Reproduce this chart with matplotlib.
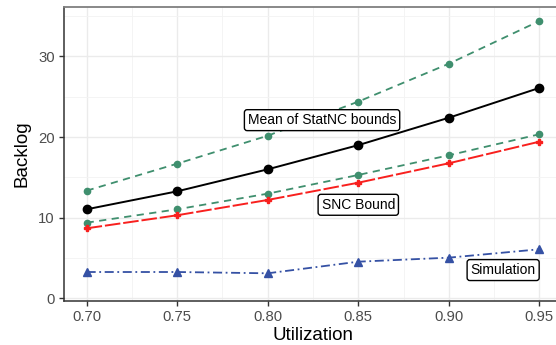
import matplotlib
matplotlib.use("Agg")
import matplotlib.pyplot as plt
from matplotlib.ticker import MultipleLocator

plt.rcParams['font.family'] = ['Liberation Sans', 'DejaVu Sans']

utilization = [0.70, 0.75, 0.80, 0.85, 0.90, 0.95]
statnc_upper = [13.35, 16.7, 20.17, 24.4, 29.1, 34.4]
statnc_mean = [11.04, 13.27, 16.0, 19.0, 22.4, 26.1]
statnc_lower = [9.38, 11.04, 12.98, 15.3, 17.74, 20.35]
snc_bound = [8.68, 10.3, 12.2, 14.34, 16.75, 19.43]
simulation = [3.26, 3.26, 3.1, 4.54, 5.04, 6.08]

labels = ["Mean of StatNC bounds", "SNC Bound", "Simulation"]
label_x = [0.83, 0.85, 0.93]
label_y = [22.1, 11.6, 3.5]

fig = plt.figure(figsize=(5.56, 3.45), dpi=100)
ax = fig.add_axes([64/556, 44.3/345, 498/556, 293.7/345])

green = "#3F8F6E"
ax.plot(utilization, statnc_upper, color=green, ls=(0, (4, 3)), lw=1.3,
        marker='o', ms=4.5, zorder=3)
ax.plot(utilization, statnc_lower, color=green, ls=(0, (4, 3)), lw=1.3,
        marker='o', ms=4.5, zorder=3)
ax.plot(utilization, statnc_mean, color="black", ls='-', lw=1.4,
        marker='o', ms=6, zorder=4)
ax.plot(utilization, snc_bound, color="#F8201E", ls=(0, (8, 1.5)), lw=1.4,
        marker='P', ms=4.5, zorder=3)
ax.plot(utilization, simulation, color="#3551A4", ls=(0, (5, 2, 1, 2)), lw=1.3,
        marker='^', ms=5.5, zorder=3)

for t, x, y in zip(labels, label_x, label_y):
    ax.text(x, y, t, ha='center', va='center', fontsize=10, color='black', zorder=6,
            bbox=dict(boxstyle='round,pad=0.25,rounding_size=0.2', fc='white',
                      ec='black', lw=1.0))

ax.set_xlim(0.6875, 0.9625)
ax.set_ylim(-0.3, 36.14)
ax.set_xticks(utilization)
ax.set_xticklabels([f"{v:.2f}" for v in utilization])
ax.set_yticks([0, 10, 20, 30])
ax.xaxis.set_minor_locator(MultipleLocator(0.025))
ax.yaxis.set_minor_locator(MultipleLocator(5))
ax.tick_params(which='minor', length=0)
ax.tick_params(which='major', length=3.5, width=1.0, color='#333333',
               labelsize=10.7, labelcolor='#4D4D4D', pad=3)
ax.grid(which='major', color='#EBEBEB', lw=1.0)
ax.grid(which='minor', color='#F3F3F3', lw=0.6)
ax.set_axisbelow(True)

for s in ['left', 'bottom']:
    ax.spines[s].set_color('#333333')
    ax.spines[s].set_linewidth(1.1)
ax.spines['top'].set_color('#7F7F7F')
ax.spines['top'].set_linewidth(1.3)
ax.spines['right'].set_visible(False)

ax.set_xlabel("Utilization", fontsize=13.5, labelpad=2)
ax.set_ylabel("Backlog", fontsize=13.5, labelpad=6)

fig.savefig("out.png", dpi=100)
